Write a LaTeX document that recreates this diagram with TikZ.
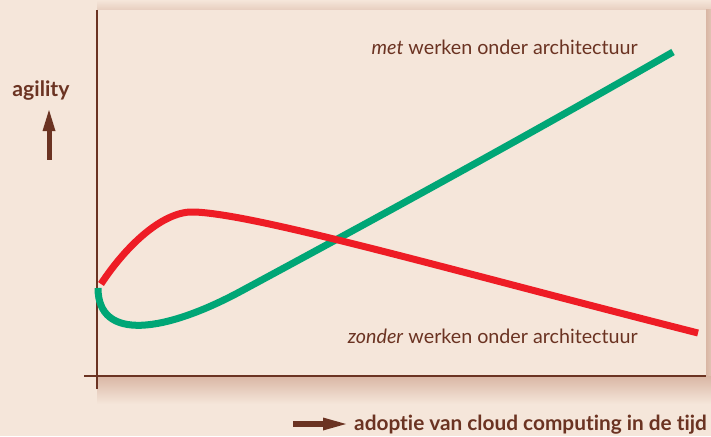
\documentclass[tikz,border=0pt]{standalone}
\usepackage{fontspec}
\setmainfont{Lato}[Ligatures=NoCommon]
\definecolor{bg}{HTML}{F5E6DA}
\definecolor{shad}{HTML}{D9B6A4}
\definecolor{brown}{HTML}{6B3322}
\definecolor{grn}{HTML}{00A676}
\definecolor{rd}{HTML}{EE1C25}
\begin{document}
\begin{tikzpicture}[x=1pt,y=-1pt,
  axisline/.style={draw=brown,line width=1.1pt},
  curve/.style={line width=7pt},
  lbl/.style={text=brown,font=\fontsize{19.7}{22}\selectfont,inner sep=0pt},
  axlbl/.style={text=brown,font=\bfseries\fontsize{20.8}{22}\selectfont,inner sep=0pt}]
\useasboundingbox (0,0) rectangle (711,436);
\fill[bg] (0,0) rectangle (711,436);
% shadows
\shade[top color=bg,bottom color=shad!50!bg] (97,0) rectangle (711,10);
\shade[left color=shad,right color=shad!70!bg] (706,10) rectangle (711,376);
\shade[top color=shad,bottom color=bg] (97,376) rectangle (711,404);
\fill[bg] (97,10) rectangle (706,376);
% axes
\coordinate (yb) at (97,389);
\coordinate (yt) at (97,10);
\coordinate (xl) at (84,376);
\coordinate (xr) at (706,376);
\draw[axisline] (yb) -- (yt);
\draw[axisline] (xl) -- (xr);
% curves
\coordinate (g0) at (98,288);
\coordinate (g1) at (245,289);
\coordinate (g2) at (673,52);
\draw[curve,grn] (g0) .. controls (98,342) and (165,333) .. (g1)
  .. controls (360,227) and (520,140) .. (g2);
\coordinate (r0) at (101,284);
\coordinate (r1) at (195,212);
\coordinate (r2) at (698,333);
\draw[curve,rd] (r0) .. controls (128,243) and (165,210) .. (r1)
  .. controls (260,215) and (450,270) .. (r2);
% labels
\node[lbl,anchor=base east] (met) at (638,55) {\textit{met} werken onder architectuur};
\node[lbl,anchor=base east] (zonder) at (638,343) {\textit{zonder} werken onder architectuur};
\node[axlbl,anchor=base,font=\bfseries\fontsize{21.2}{22}\selectfont] (agility) at (41,96) {agility};
\node[axlbl,anchor=base west] (adoptie) at (354,430) {adoptie van cloud computing in de tijd};
% arrows
\fill[brown] (47.3,160) rectangle (51.7,130);
\fill[brown] (42.5,131) -- (49,110) -- (55.5,131) -- cycle;
\fill[brown] (293,421.3) rectangle (324,426.7);
\fill[brown] (323,417.5) -- (346,424) -- (323,430.5) -- cycle;
\end{tikzpicture}
\end{document}
